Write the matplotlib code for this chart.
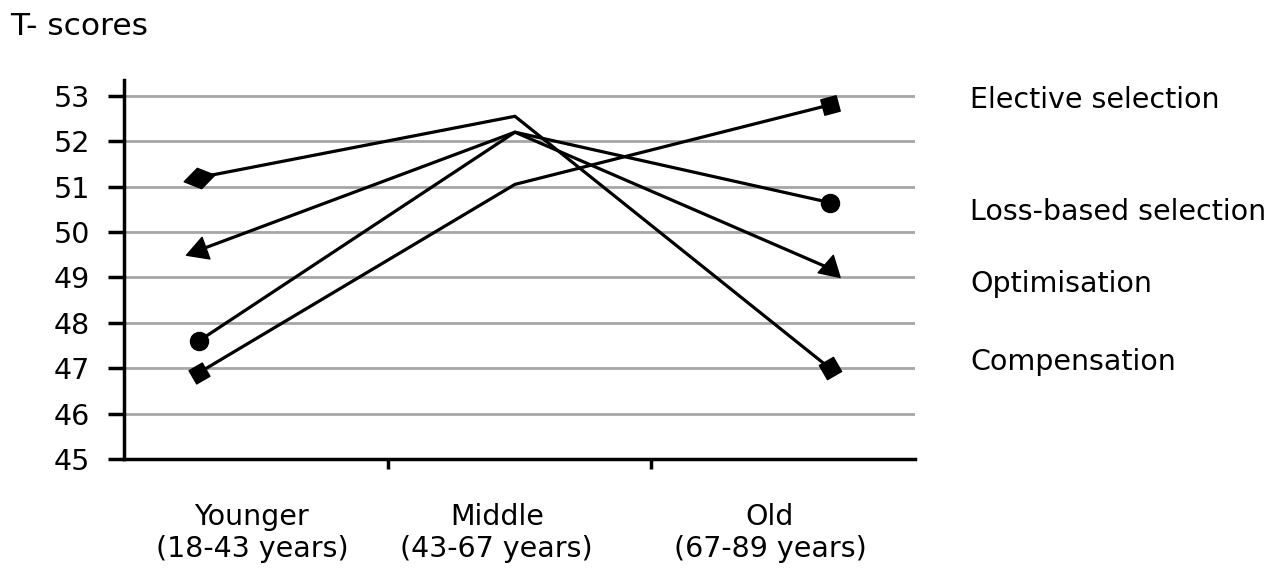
import matplotlib.pyplot as plt
from matplotlib.path import Path
import numpy as np

plt.rcParams['font.family'] = ['DejaVu Sans']

groups = ['Younger\n(18-43 years)', 'Middle\n(43-67 years)', 'Old\n(67-89 years)']
group_pos = [0.485, 1.414, 2.45]
x_pts = [0.284, 1.483, 2.677]

elective = [46.9, 51.05, 52.8]
loss_based = [47.6, 52.2, 50.65]
optimisation = [49.6, 52.2, 49.2]
compensation = [51.2, 52.55, 47.0]

names = ['Elective selection', 'Loss-based selection', 'Optimisation', 'Compensation']
name_y = [52.9, 50.44, 48.85, 47.14]


def shape(verts, angle):
    # rotate a closed polygon to use as a marker
    a = np.deg2rad(angle)
    v = np.array(verts, dtype=float)
    r = np.array([[np.cos(a), -np.sin(a)], [np.sin(a), np.cos(a)]])
    v = v @ r.T
    v = np.vstack([v, v[:1]])
    return Path(v, closed=True)


diamond = [(-1.5, 0), (0, 1), (1.5, 0), (0, -1)]
square = [(-1, -1), (1, -1), (1, 1), (-1, 1)]
tri = [(0, 1.2), (-1, -0.6), (1, -0.6)]

fig = plt.figure(figsize=(12.87, 5.70), dpi=100)
ax = fig.add_axes([0.0963, 0.1947, 0.6146, 0.665])

for v in range(46, 54):
    ax.axhline(v, color='#a6a6a6', lw=2, zorder=1)

lw = 2.3
ax.plot(x_pts, compensation, color='black', lw=lw, zorder=3)
ax.plot(x_pts, optimisation, color='black', lw=lw, zorder=3)
ax.plot(x_pts, loss_based, color='black', lw=lw, zorder=3)
ax.plot(x_pts, elective, color='black', lw=lw, zorder=3)

# markers at the ends
ax.plot(x_pts[0], compensation[0], marker=shape(diamond, 12), ms=22, color='black', zorder=4)
ax.plot(x_pts[2], compensation[2], marker=shape(square, 30), ms=16, color='black', zorder=4)
ax.plot(x_pts[0], optimisation[0], marker=shape(tri, 110), ms=19, color='black', zorder=4)
ax.plot(x_pts[2], optimisation[2], marker=shape(tri, -12), ms=19, color='black', zorder=4)
ax.plot([x_pts[0], x_pts[2]], [loss_based[0], loss_based[2]], 'o', ms=13, color='black', zorder=4)
ax.plot(x_pts[0], elective[0], marker=shape(square, 30), ms=15, color='black', zorder=4)
ax.plot(x_pts[2], elective[2], marker=shape(square, 15), ms=14, color='black', zorder=4)

ax.set_xlim(0, 3)
ax.set_ylim(45, 53.35)
ax.set_yticks(range(45, 54))
ax.tick_params(axis='y', labelsize=20.5, length=11.5, width=2.5, pad=13)

ax.set_xticks([1, 2])
ax.set_xticklabels(['', ''])
ax.tick_params(axis='x', which='major', length=7, width=2.5)
ax.set_xticks(group_pos, minor=True)
ax.set_xticklabels(groups, minor=True, fontsize=20.5, linespacing=1.15)
ax.tick_params(axis='x', which='minor', length=0, pad=32)

for s in ['top', 'right']:
    ax.spines[s].set_visible(False)
for s in ['left', 'bottom']:
    ax.spines[s].set_linewidth(2.5)

tr = ax.get_yaxis_transform()
for n, y in zip(names, name_y):
    ax.text(1.07, y, n, transform=tr, fontsize=20.5, va='center', ha='left', clip_on=False)

fig.text(0.008, 0.953, 'T- scores', fontsize=22.5, va='center', ha='left')

fig.savefig('out.png', dpi=100)
